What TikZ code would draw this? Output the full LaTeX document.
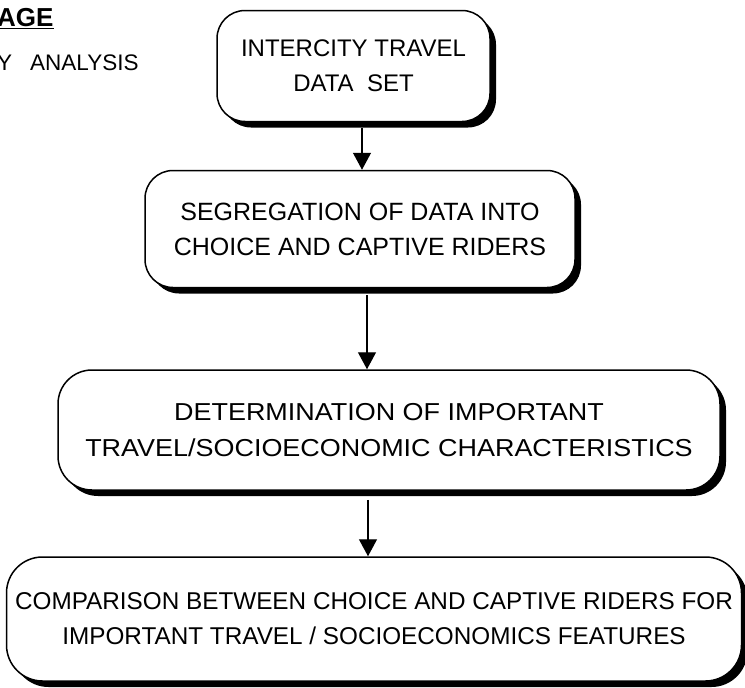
\documentclass[tikz,border=0pt]{standalone}
\usepackage{fontspec}
\setmainfont{Liberation Sans}
\usetikzlibrary{shadows,arrows.meta,positioning}

\begin{document}
\begin{tikzpicture}[x=1pt,y=-1pt,
  stagebox/.style={draw,line width=1.5pt,rounded corners=28pt,fill=white,align=center,
    drop shadow={shadow xshift=6pt,shadow yshift=-6pt,fill=black,opacity=1}},
  flow/.style={line width=1.3pt,-{Triangle[length=17pt,width=18pt]}}]
\useasboundingbox[fill=white] (0,0) rectangle (745,688);

% heading, cut at the left edge
\node[anchor=west,inner sep=0pt,font=\fontsize{26}{26}\selectfont\bfseries] (stage) at (-3,19) {\underline{AGE}};
\node[anchor=west,inner sep=0pt,font=\fontsize{22.5}{22.5}\selectfont] (anal) at (-3,63) {Y\hspace{18pt}ANALYSIS};

% boxes
\node[stagebox,minimum width=273pt,minimum height=111pt,font=\fontsize{24}{35}\selectfont] (data) at (353.5,66) {INTERCITY TRAVEL\\DATA\ \ SET};
\node[stagebox,minimum width=430pt,minimum height=117pt,font=\fontsize{25}{35}\selectfont] (segr) at (360,229) {SEGREGATION OF DATA INTO\\CHOICE AND CAPTIVE RIDERS};
\node[stagebox,rounded corners=34pt,minimum width=662pt,minimum height=120pt,
  font=\fontsize{24.5}{36}\selectfont\addfontfeature{FakeStretch=1.1}] (dete) at (389,430) {DETERMINATION OF IMPORTANT\\TRAVEL/SOCIOECONOMIC CHARACTERISTICS};
\node[stagebox,rounded corners=36pt,minimum width=735pt,minimum height=124pt,font=\fontsize{24.3}{35}\selectfont] (comp) at (374,619) {COMPARISON BETWEEN CHOICE AND CAPTIVE RIDERS FOR\\IMPORTANT TRAVEL / SOCIOECONOMICS FEATURES};

% arrows
\draw[flow] ([xshift=8.5pt,yshift=-6pt]data.south) -- ([xshift=8.5pt]data.south |- segr.north);
\draw[flow] ([xshift=7pt,yshift=-7pt]segr.south) -- ([xshift=7pt]segr.south |- dete.north);
\draw[flow] ([xshift=-21pt,yshift=-9pt]dete.south) -- ([xshift=-21pt]dete.south |- comp.north);

\end{tikzpicture}
\end{document}
